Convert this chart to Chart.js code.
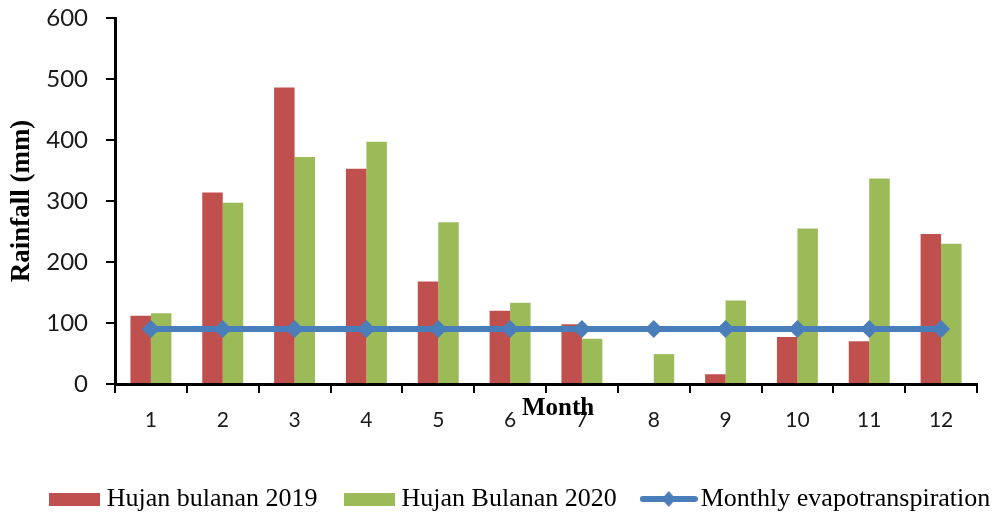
<!DOCTYPE html>
<html>
<head>
<meta charset="utf-8">
<script src="https://cdn.jsdelivr.net/npm/chart.js@4"></script>
<style>
    html, body { margin: 0; padding: 0; background: #fff; }
    #wrap { width: 1006px; height: 513px; }
</style>
</head>
<body>
<div id="wrap"><canvas id="rainChart" width="1006" height="513"></canvas></div>
<script>
const months = ['1', '2', '3', '4', '5', '6', '7', '8', '9', '10', '11', '12'];
const rain2019 = [112, 314, 486, 353, 168, 120, 98, 0, 16, 77, 70, 246];
const rain2020 = [116, 297, 372, 397, 265, 133, 74, 49, 137, 255, 337, 230];
const evapo = [90, 90, 90, 90, 90, 90, 90, 90, 90, 90, 90, 90];
const yTicks = [0, 100, 200, 300, 400, 500, 600];

const red = '#c0504d';
const green = '#9bbb59';
const blue = '#4a7ebb';

// legend markers drawn as little pictures so the gap to the text can be tight
function boxIcon(color) {
    const cv = document.createElement('canvas');
    cv.width = 51;
    cv.height = 13;
    const c = cv.getContext('2d');
    c.fillStyle = color;
    c.fillRect(0, 0, 51, 13);
    return cv;
}
const lineIcon = document.createElement('canvas');
lineIcon.width = 58;
lineIcon.height = 18;
(function () {
    const c = lineIcon.getContext('2d');
    c.strokeStyle = blue;
    c.lineWidth = 6;
    c.lineCap = 'round';
    c.beginPath();
    c.moveTo(3, 9);
    c.lineTo(55, 9);
    c.stroke();
    c.fillStyle = blue;
    c.beginPath();
    c.moveTo(29, 1);
    c.lineTo(36, 9);
    c.lineTo(29, 17);
    c.lineTo(22, 9);
    c.closePath();
    c.fill();
})();
const icons = [lineIcon, boxIcon(red), boxIcon(green)];

const monthTitle = {
    id: 'monthTitle',
    afterLayout(chart) {
        // nudge legend to where the original sits
        const lg = chart.legend;
        lg.left += 20; lg.right += 20;
        lg.top += 9; lg.bottom += 9;
    },
    afterDraw(chart) {
        const { ctx, chartArea } = chart;
        ctx.save();
        ctx.font = 'bold 25px "Liberation Serif"';
        ctx.fillStyle = '#000';
        ctx.textAlign = 'center';
        ctx.textBaseline = 'alphabetic';
        ctx.fillText('Month', (chartArea.left + chartArea.right) / 2 + 12, chartArea.bottom + 31);
        ctx.restore();
    }
};

const ctx = document.getElementById('rainChart').getContext('2d');

const rainChart = new Chart(ctx, {
    data: {
        labels: months,
        datasets: [{
            type: 'line',
            label: 'Monthly evapotranspiration',
            data: evapo,
            borderColor: blue,
            backgroundColor: blue,
            borderWidth: 6,
            pointStyle: 'rectRot',
            pointRadius: 9,
            pointBackgroundColor: blue,
            pointBorderWidth: 0,
            order: 0
        }, {
            type: 'bar',
            label: 'Hujan bulanan 2019',
            data: rain2019,
            backgroundColor: red,
            categoryPercentage: 0.57,
            barPercentage: 1.0,
            order: 1
        }, {
            type: 'bar',
            label: 'Hujan Bulanan 2020',
            data: rain2020,
            backgroundColor: green,
            categoryPercentage: 0.57,
            barPercentage: 1.0,
            order: 1
        }]
    },
    options: {
        responsive: false,
        animation: false,
        layout: {
            padding: { top: 18, right: 0, left: 0, bottom: 0 }
        },
        plugins: {
            tooltip: { enabled: false },
            legend: {
                position: 'bottom',
                labels: {
                    usePointStyle: true,
                    pointStyleWidth: 38,
                    boxHeight: 13,
                    padding: 33,
                    color: '#000',
                    font: { family: '"Liberation Serif"', size: 26 },
                    sort: (a, b) => [1, 2, 0].indexOf(a.datasetIndex) - [1, 2, 0].indexOf(b.datasetIndex),
                    generateLabels(chart) {
                        const items = Chart.defaults.plugins.legend.labels.generateLabels(chart);
                        items.forEach(it => {
                            it.pointStyle = icons[it.datasetIndex];
                            it.lineWidth = 0;
                        });
                        return items;
                    }
                }
            }
        },
        scales: {
            x: {
                offset: true,
                grid: {
                    offset: true,
                    drawOnChartArea: false,
                    drawTicks: true,
                    tickLength: 9,
                    color: '#000',
                    lineWidth: 2
                },
                border: { color: '#000', width: 3 },
                ticks: {
                    color: '#1a1a1a',
                    padding: 15,
                    font: { family: 'Lato', size: 21 }
                },
                afterFit(scale) { scale.height = 60; }
            },
            y: {
                min: 0,
                max: 600,
                afterBuildTicks(scale) { scale.ticks = yTicks.map(v => ({ value: v })); },
                grid: {
                    drawOnChartArea: false,
                    drawTicks: true,
                    tickLength: 9,
                    color: '#000',
                    lineWidth: 2
                },
                border: { color: '#000', width: 3 },
                ticks: {
                    color: '#1a1a1a',
                    padding: 18,
                    font: { family: 'Lato', size: 24 }
                },
                title: {
                    display: true,
                    text: 'Rainfall (mm)',
                    color: '#000',
                    padding: { top: 6, bottom: 0 },
                    font: { family: '"Liberation Serif"', size: 27, weight: 'bold' }
                },
                afterFit(scale) {
                    scale.width = 115;
                    scale.paddingTop = 12;
                    scale.paddingBottom = 12;
                }
            },
            // empty right axis, only keeps the white margin on the right
            y2: {
                position: 'right',
                display: true,
                grid: { display: false },
                border: { display: false },
                ticks: { display: false },
                afterFit(scale) { scale.width = 29; }
            }
        }
    },
    plugins: [monthTitle]
});
</script>
</body>
</html>
